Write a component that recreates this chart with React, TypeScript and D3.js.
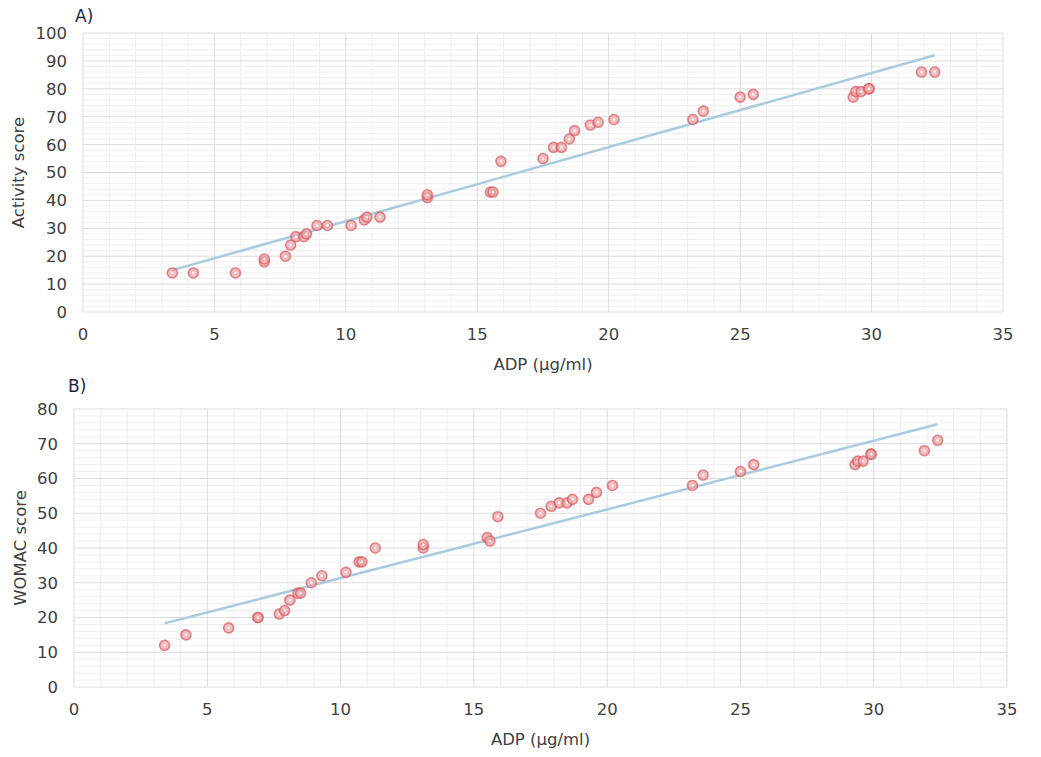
import React from "react";
import * as d3 from "d3";

// ADP concentration shared by both panels
const adp = [
  3.4, 4.2, 5.8, 6.9, 6.9, 7.7, 7.9, 8.1, 8.4, 8.5, 8.9, 9.3, 10.2, 10.7, 10.8, 11.3, 13.1, 13.1,
  15.5, 15.6, 15.9, 17.5, 17.9, 18.2, 18.5, 18.7, 19.3, 19.6, 20.2, 23.2, 23.6, 25.0, 25.5, 29.3,
  29.4, 29.6, 29.9, 29.9, 31.9, 32.4,
];
const activity = [
  14, 14, 14, 18, 19, 20, 24, 27, 27, 28, 31, 31, 31, 33, 34, 34, 41, 42, 43, 43, 54, 55, 59, 59,
  62, 65, 67, 68, 69, 69, 72, 77, 78, 77, 79, 79, 80, 80, 86, 86,
];
const womac = [
  12, 15, 17, 20, 20, 21, 22, 25, 27, 27, 30, 32, 33, 36, 36, 40, 40, 41, 43, 42, 49, 50, 52, 53,
  53, 54, 54, 56, 58, 58, 61, 62, 64, 64, 65, 65, 67, 67, 68, 71,
];
// trend line end points [x, y]
const activityTrend = [[3.4, 15], [32.4, 92]];
const womacTrend = [[3.4, 18.3], [32.4, 75.6]];

const xTicks = [0, 5, 10, 15, 20, 25, 30, 35];

const FONT = "'DejaVu Sans', sans-serif";
const TEXT = "#404040";

type PanelProps = {
  tag: string;
  tagX: number;
  tagY: number;
  left: number;
  right: number;
  top: number;
  bottom: number;
  yMax: number;
  ys: number[];
  trend: number[][];
  yTitle: string;
  yTitleX: number;
};

function Panel(p: PanelProps) {
  const x = d3.scaleLinear().domain([0, 35]).range([p.left, p.right]);
  const y = d3.scaleLinear().domain([0, p.yMax]).range([p.bottom, p.top]);
  const yMajor = d3.range(0, p.yMax + 1, 10);
  const yMinor = d3.range(0, p.yMax + 0.1, 2).filter((v) => v % 10 !== 0);
  const xMinor = d3.range(0, 35.1, 1).filter((v) => v % 5 !== 0);
  const line = d3
    .line<number[]>()
    .x((d) => x(d[0]))
    .y((d) => y(d[1]));

  return (
    <g>
      <text x={p.tagX} y={p.tagY} fontFamily={FONT} fontSize={17} fill="#1c2640">
        {p.tag}
      </text>
      {/* minor grid */}
      {xMinor.map((v) => (
        <line key={"xm" + v} x1={x(v)} x2={x(v)} y1={p.top} y2={p.bottom} stroke="#efefef" />
      ))}
      {yMinor.map((v) => (
        <line key={"ym" + v} x1={p.left} x2={p.right} y1={y(v)} y2={y(v)} stroke="#efefef" />
      ))}
      {/* major grid */}
      {xTicks.map((v) => (
        <line key={"xM" + v} x1={x(v)} x2={x(v)} y1={p.top} y2={p.bottom} stroke="#dcdcdc" />
      ))}
      {yMajor.map((v) => (
        <line key={"yM" + v} x1={p.left} x2={p.right} y1={y(v)} y2={y(v)} stroke="#dcdcdc" />
      ))}
      {/* tick labels */}
      {yMajor.map((v) => (
        <text
          key={"yt" + v}
          x={p.left - 16}
          y={y(v)}
          dy="0.36em"
          textAnchor="end"
          fontFamily={FONT}
          fontSize={16.5}
          fill={TEXT}
        >
          {v}
        </text>
      ))}
      {xTicks.map((v) => (
        <text
          key={"xt" + v}
          x={x(v)}
          y={p.bottom + 22}
          dy="0.36em"
          textAnchor="middle"
          fontFamily={FONT}
          fontSize={16.5}
          fill={TEXT}
        >
          {v}
        </text>
      ))}
      <text
        x={(p.left + p.right) / 2}
        y={p.bottom + 52}
        dy="0.36em"
        textAnchor="middle"
        fontFamily={FONT}
        fontSize={16.5}
        fill={TEXT}
      >
        ADP (µg/ml)
      </text>
      <text
        transform={`translate(${p.yTitleX},${(p.top + p.bottom) / 2}) rotate(-90)`}
        dy="0.36em"
        textAnchor="middle"
        fontFamily={FONT}
        fontSize={16.5}
        fill={TEXT}
      >
        {p.yTitle}
      </text>
      {/* trend line */}
      <path d={line(p.trend) || ""} fill="none" stroke="#a9cbdd" strokeWidth={2.5} />
      {/* points */}
      {adp.map((a, i) => (
        <g key={"p" + i} transform={`translate(${x(a)},${y(p.ys[i])})`}>
          <circle r={5} fill="#eaa3a5" fillOpacity={0.7} stroke="#d9575c" strokeOpacity={0.7} strokeWidth={1.6} />
          <circle r={1.3} fill="#ffffff" fillOpacity={0.85} />
        </g>
      ))}
    </g>
  );
}

export default function App() {
  return (
    <div style={{ position: "absolute", left: 0, top: 0 }}>
      <svg width={1041} height={757} style={{ display: "block", background: "#fff" }}>
        <Panel
          tag="A)"
          tagX={75}
          tagY={22}
          left={83}
          right={1003}
          top={33}
          bottom={312}
          yMax={100}
          ys={activity}
          trend={activityTrend}
          yTitle="Activity score"
          yTitleX={18}
        />
        <Panel
          tag="B)"
          tagX={68}
          tagY={392}
          left={74}
          right={1007}
          top={409}
          bottom={687}
          yMax={80}
          ys={womac}
          trend={womacTrend}
          yTitle="WOMAC score"
          yTitleX={20}
        />
      </svg>
    </div>
  );
}
